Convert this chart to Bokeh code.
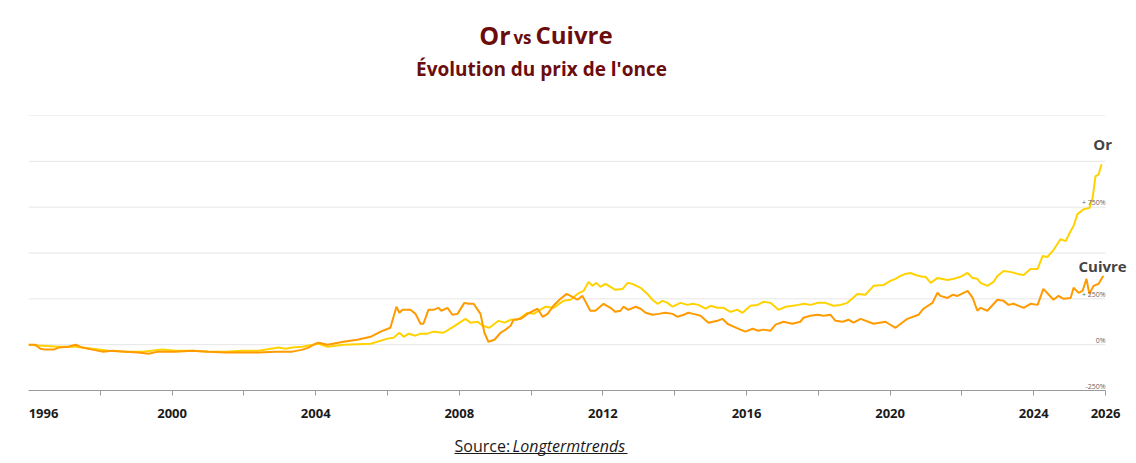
from bokeh.plotting import figure
from bokeh.layouts import column
from bokeh.models import Range1d, FixedTicker, Label, LinearAxis
from bokeh.embed import file_html
from bokeh.resources import INLINE

# ---- data (% change since Jan 1996) ----
gold_year = [1996.00, 1996.28, 1996.84, 1997.31, 1997.78, 1998.23, 1998.70, 1999.18, 1999.73, 2000.09,
             2000.57, 2001.01, 2001.49, 2001.96, 2002.41, 2002.96, 2003.16, 2003.35, 2003.63, 2003.91,
             2004.08, 2004.33, 2004.77, 2005.53, 2006.00, 2006.17, 2006.33, 2006.45, 2006.59, 2006.78,
             2006.92, 2007.11, 2007.28, 2007.56, 2007.84, 2008.17, 2008.31, 2008.51, 2008.65, 2008.84,
             2009.09, 2009.26, 2009.43, 2009.62, 2009.90, 2010.07, 2010.40, 2010.62, 2010.90, 2011.10,
             2011.29, 2011.46, 2011.60, 2011.71, 2011.82, 2011.93, 2012.07, 2012.21, 2012.35, 2012.55,
             2012.69, 2012.82, 2013.05, 2013.24, 2013.38, 2013.52, 2013.66, 2013.80, 2013.94, 2014.16,
             2014.36, 2014.50, 2014.66, 2014.86, 2015.00, 2015.19, 2015.36, 2015.55, 2015.75, 2015.89,
             2016.11, 2016.31, 2016.47, 2016.67, 2016.89, 2017.09, 2017.28, 2017.45, 2017.59, 2017.79,
             2017.98, 2018.20, 2018.42, 2018.62, 2018.81, 2019.09, 2019.31, 2019.54, 2019.82, 2020.01,
             2020.15, 2020.29, 2020.43, 2020.57, 2020.71, 2020.90, 2020.99, 2021.13, 2021.32, 2021.60,
             2021.77, 2021.96, 2022.16, 2022.29, 2022.43, 2022.52, 2022.71, 2022.88, 2022.99, 2023.16,
             2023.35, 2023.55, 2023.72, 2023.91, 2024.11, 2024.25, 2024.38, 2024.55, 2024.75, 2024.89,
             2025.03, 2025.11, 2025.22, 2025.39, 2025.55, 2025.64, 2025.72, 2025.81, 2025.89]
gold_pct = [0, -5, -11, -11, -22, -33, -38, -38, -27, -33,
            -33, -38, -38, -33, -33, -16, -22, -16, -11, 0,
            5, -11, 0, 5, 33, 38, 65, 43, 60, 49,
            60, 60, 71, 65, 98, 141, 120, 125, 103, 92,
            130, 120, 136, 136, 174, 168, 207, 201, 239, 245,
            277, 293, 342, 321, 337, 315, 332, 315, 299, 304,
            337, 332, 310, 277, 245, 223, 239, 228, 207, 228,
            217, 223, 217, 196, 212, 201, 201, 179, 190, 174,
            212, 217, 234, 228, 190, 207, 212, 217, 223, 217,
            228, 228, 212, 217, 228, 277, 272, 321, 326, 348,
            359, 375, 386, 391, 380, 370, 370, 337, 364, 353,
            359, 370, 391, 364, 359, 337, 321, 342, 375, 402,
            397, 386, 380, 413, 413, 484, 478, 516, 576, 565,
            620, 647, 712, 739, 745, 799, 918, 929, 984]

copper_year = [1996.00, 1996.19, 1996.33, 1996.47, 1996.70, 1996.84, 1997.11, 1997.31, 1997.50, 1997.78,
               1998.06, 1998.34, 1998.70, 1999.06, 1999.34, 1999.62, 2000.09, 2000.57, 2001.01, 2001.49,
               2001.96, 2002.41, 2002.88, 2003.35, 2003.63, 2003.80, 2003.99, 2004.08, 2004.33, 2004.77,
               2005.16, 2005.53, 2005.81, 2006.08, 2006.25, 2006.33, 2006.42, 2006.64, 2006.78, 2006.92,
               2007.00, 2007.14, 2007.28, 2007.42, 2007.50, 2007.67, 2007.81, 2007.95, 2008.14, 2008.26,
               2008.40, 2008.59, 2008.70, 2008.81, 2008.98, 2009.15, 2009.29, 2009.43, 2009.51, 2009.71,
               2009.90, 2010.07, 2010.18, 2010.32, 2010.46, 2010.62, 2010.82, 2010.99, 2011.15, 2011.29,
               2011.43, 2011.65, 2011.79, 2012.02, 2012.21, 2012.35, 2012.49, 2012.57, 2012.71, 2012.91,
               2013.05, 2013.19, 2013.38, 2013.55, 2013.74, 2013.94, 2014.08, 2014.25, 2014.38, 2014.52,
               2014.72, 2014.94, 2015.19, 2015.33, 2015.47, 2015.64, 2015.83, 2015.97, 2016.17, 2016.33,
               2016.47, 2016.67, 2016.81, 2017.03, 2017.28, 2017.50, 2017.59, 2017.78, 2017.98, 2018.15,
               2018.34, 2018.48, 2018.68, 2018.84, 2018.98, 2019.18, 2019.54, 2019.87, 2020.15, 2020.48,
               2020.79, 2020.93, 2021.18, 2021.32, 2021.40, 2021.60, 2021.74, 2021.88, 2022.16, 2022.30,
               2022.43, 2022.52, 2022.71, 2022.99, 2023.16, 2023.30, 2023.44, 2023.72, 2023.91, 2024.11,
               2024.27, 2024.55, 2024.69, 2024.83, 2025.03, 2025.11, 2025.25, 2025.36, 2025.47, 2025.55,
               2025.67, 2025.81, 2025.95]
copper_pct = [0, 0, -22, -27, -27, -16, -11, 0, -16, -27,
              -38, -33, -38, -43, -49, -38, -38, -33, -38, -43,
              -43, -43, -38, -38, -27, -16, 5, 11, 0, 16,
              27, 43, 71, 92, 207, 174, 190, 190, 168, 114,
              114, 190, 190, 201, 185, 201, 163, 168, 228, 223,
              223, 168, 65, 16, 27, 65, 82, 103, 136, 141,
              168, 185, 196, 152, 168, 212, 250, 277, 261, 245,
              266, 185, 185, 223, 201, 179, 185, 207, 190, 207,
              196, 174, 163, 168, 174, 168, 152, 163, 174, 168,
              158, 120, 130, 141, 114, 98, 82, 71, 87, 76,
              82, 76, 109, 125, 114, 125, 147, 158, 163, 158,
              163, 130, 125, 136, 120, 141, 114, 125, 92, 141,
              163, 196, 228, 283, 266, 255, 272, 266, 293, 255,
              185, 201, 185, 245, 239, 217, 223, 201, 223, 217,
              304, 245, 266, 250, 255, 310, 283, 293, 359, 277,
              321, 332, 380]

first_year = 1996
last_year = 2026
tick_years = [1998, 2000, 2002, 2004, 2006, 2008, 2010, 2012, 2014, 2016, 2018, 2020, 2022, 2024, 2026]
labeled_years = [2000, 2004, 2008, 2012, 2016, 2020, 2024, 2026]
grid_values = [0, 250, 500, 750, 1000, 1250]
right_label_values = [750, 250, 0, -250]
right_label_texts = ["+ 750%", "+ 250%", "0%", "-250%"]

GOLD = "#FFD200"
COPPER = "#FF9A00"
TITLE_COLOR = "#6b0d0d"
FONT = "Open Sans"

W = 1134
LEFT = 28
HEAD_H, MAIN_H, FOOT_H = 100, 323, 38
FRAME_TOP, FRAME_BOTTOM = 15, 33


def blank(height):
    f = figure(width=W, height=height, output_backend="svg", toolbar_location=None,
               x_range=Range1d(LEFT, W), y_range=Range1d(0, height),
               x_axis_location=None, y_axis_location=None,
               min_border=0, min_border_left=LEFT, min_border_right=0,
               min_border_top=0, min_border_bottom=0)
    f.grid.visible = False
    f.outline_line_color = None
    return f


# ---------------- header ----------------
head = blank(HEAD_H)
head.add_layout(Label(x=510, y=66, text="Or", text_align="right", text_baseline="middle",
                      text_font=FONT, text_font_style="bold", text_font_size="25px", text_color=TITLE_COLOR))
head.add_layout(Label(x=522, y=63, text="vs", text_align="center", text_baseline="middle",
                      text_font=FONT, text_font_style="bold", text_font_size="17px", text_color=TITLE_COLOR))
head.add_layout(Label(x=535, y=66, text="Cuivre", text_align="left", text_baseline="middle",
                      text_font=FONT, text_font_style="bold", text_font_size="24px", text_color=TITLE_COLOR))
head.add_layout(Label(x=541, y=32, text="Évolution du prix de l'once", text_align="center",
                      text_baseline="middle", text_font=FONT, text_font_style="bold",
                      text_font_size="19px", text_color=TITLE_COLOR))

# ---------------- main chart ----------------
frame_w = W - LEFT
px_per_year = 1077 / (last_year - first_year)
p = figure(width=W, height=MAIN_H, output_backend="svg", toolbar_location=None,
           x_range=Range1d(first_year, first_year + frame_w / px_per_year), y_range=Range1d(-250, 1250),
           x_axis_location=None, y_axis_location=None,
           min_border_left=LEFT, min_border_right=0, min_border_top=FRAME_TOP, min_border_bottom=FRAME_BOTTOM)
p.outline_line_color = None
p.grid.visible = False

p.segment(x0=first_year, x1=last_year, y0=grid_values, y1=grid_values, line_color="#e6e6e6", line_width=1)

# axis 1: line + ticks
ax = LinearAxis(ticker=FixedTicker(ticks=tick_years), bounds=(first_year, last_year))
ax.minor_tick_line_color = None
ax.axis_line_color = "#9a9a9a"
ax.major_tick_line_color = "#9a9a9a"
ax.major_tick_out = 5
ax.major_tick_in = 0
ax.major_label_standoff = 0
ax.major_label_text_font_size = "0px"
ax.major_label_overrides = {y: "" for y in tick_years}
p.add_layout(ax, "below")

# axis 2: year labels (first label left-aligned at axis start)
label_pos = [first_year + 15 / px_per_year] + labeled_years
ax2 = LinearAxis(ticker=FixedTicker(ticks=label_pos), bounds=(first_year, last_year))
ax2.axis_line_color = None
ax2.major_tick_line_color = None
ax2.minor_tick_line_color = None
ax2.major_label_overrides = {label_pos[0]: str(first_year)}
ax2.major_label_standoff = 7
ax2.major_label_text_font = FONT
ax2.major_label_text_font_style = "bold"
ax2.major_label_text_font_size = "13px"
ax2.major_label_text_color = "#1a1a1a"
p.add_layout(ax2, "below")

p.line(gold_year, gold_pct, line_color=GOLD, line_width=2)
p.line(copper_year, copper_pct, line_color=COPPER, line_width=2)

for v, t in zip(right_label_values, right_label_texts):
    p.add_layout(Label(x=last_year, y=v, text=t, text_align="right", text_baseline="bottom",
                       text_font=FONT, text_font_size="7px", text_color="#666666"))

p.add_layout(Label(x=2025.92, y=1092, text="Or", text_align="center", text_baseline="middle",
                   text_font=FONT, text_font_style="bold", text_font_size="15px",
                   text_color="#444444", background_fill_color="white"))
p.add_layout(Label(x=2025.92, y=430, text="Cuivre", text_align="center", text_baseline="middle",
                   text_font=FONT, text_font_style="bold", text_font_size="15px",
                   text_color="#444444", background_fill_color="white"))

# ---------------- source ----------------
foot = blank(FOOT_H)
foot.add_layout(Label(x=454, y=16, text="Source:", text_align="left", text_baseline="middle",
                      text_font=FONT, text_font_size="16px", text_color="#1a1a1a"))
foot.add_layout(Label(x=512, y=16, text="Longtermtrends", text_align="left", text_baseline="middle",
                      text_font=FONT, text_font_style="italic", text_font_size="16px", text_color="#1a1a1a"))
foot.segment(x0=[454], x1=[627], y0=[8], y1=[8], line_color="#1a1a1a", line_width=1)

layout = column(head, p, foot, spacing=0)
open("out.html", "w").write(file_html(layout, INLINE))
